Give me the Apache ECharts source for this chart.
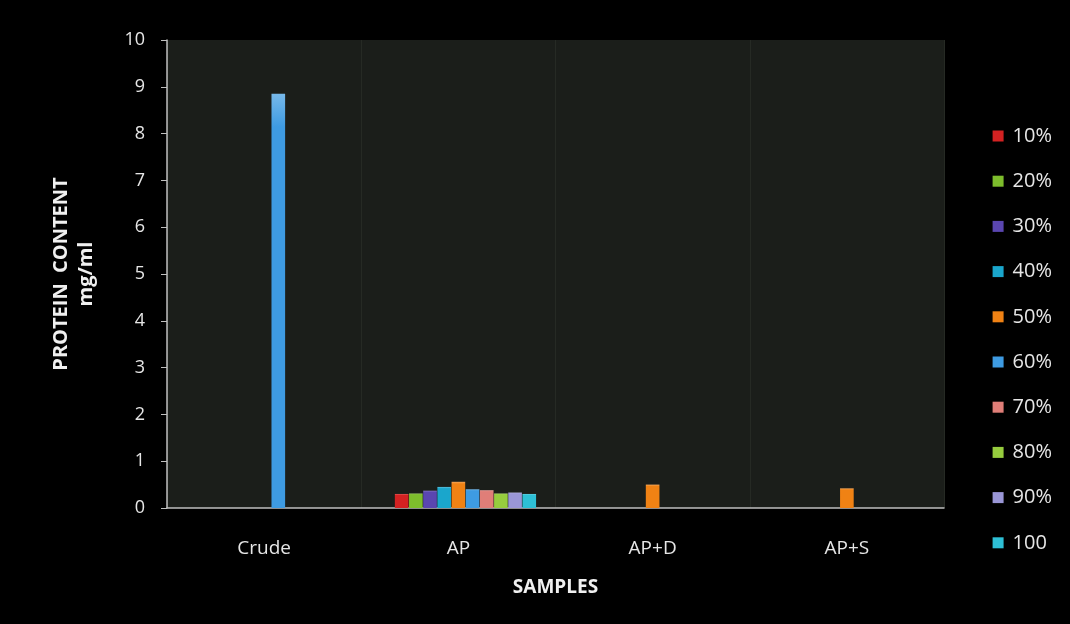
<!DOCTYPE html>
<html>
<head>
<meta charset="utf-8">
<script src="https://cdn.jsdelivr.net/npm/echarts@6/dist/echarts.min.js"></script>
<style>
  html, body { margin: 0; padding: 0; background: #000; }
  #chart { width: 1070px; height: 624px; }
</style>
</head>
<body>
<div id="chart"></div>
<script>
// Samples on the category axis
const categories = ['Crude', 'AP', 'AP+D', 'AP+S'];

// Saturation fractions (legend entries)
const fractions = ['10%', '20%', '30%', '40%', '50%', '60%', '70%', '80%', '90%', '100'];

// Protein content (mg/ml) per fraction, one value per sample ('-' = no bar)
const v10  = ['-', 0.30, '-', '-'];
const v20  = ['-', 0.31, '-', '-'];
const v30  = ['-', 0.37, '-', '-'];
const v40  = ['-', 0.45, '-', '-'];
const v50  = ['-', 0.56, 0.50, 0.42];
const v60  = [8.85, 0.40, '-', '-'];
const v70  = ['-', 0.38, '-', '-'];
const v80  = ['-', 0.31, '-', '-'];
const v90  = ['-', 0.33, '-', '-'];
const v100 = ['-', 0.30, '-', '-'];

const values = [v10, v20, v30, v40, v50, v60, v70, v80, v90, v100];
const colors = ['#d42222', '#7dbd2c', '#5a46b0', '#1aa6cc', '#f08214',
                '#3e9be2', '#e07e78', '#96cc3e', '#9a96d6', '#2ec0d6'];

const yTicks = [0, 10, 1];   // min, max, interval

const chart = echarts.init(document.getElementById('chart'));

function barColor(c) {
  return new echarts.graphic.LinearGradient(0, 0, 0, 1, [
    { offset: 0, color: echarts.color.lift(c, 0.3) },
    { offset: 0.08, color: c },
    { offset: 1, color: c }
  ]);
}

// leading empty slot in each group (kept out of the legend)
const series = [{
  name: '_slot', type: 'bar', data: categories.map(() => '-'),
  silent: true, legendHoverLink: false
}];
fractions.forEach((name, i) => {
  series.push({
    name: name,
    type: 'bar',
    data: values[i],
    itemStyle: { color: barColor(colors[i]) },
    barGap: '4%',
    barCategoryGap: '20%'
  });
});

chart.setOption({
  backgroundColor: '#000000',
  animation: false,
  color: ['#000000'].concat(colors),
  textStyle: { fontFamily: 'Open Sans' },
  legend: {
    data: fractions.map((n, i) => ({ name: n, itemStyle: { color: colors[i] } })),
    orient: 'vertical',
    right: 13,
    top: 121,
    itemWidth: 11,
    itemHeight: 11,
    itemGap: 25.2,
    icon: 'rect',
    textStyle: { color: '#e6e6e6', fontSize: 20, fontFamily: 'Open Sans', padding: [0, 0, 0, 4] }
  },
  grid: {
    left: 167, right: 126, top: 40, bottom: 116,
    show: true,
    backgroundColor: '#1b1e1a',
    borderWidth: 0
  },
  xAxis: {
    type: 'category',
    data: categories,
    name: 'SAMPLES',
    nameLocation: 'middle',
    nameGap: 70,
    nameTextStyle: { color: '#f0f0f0', fontSize: 19, fontWeight: 'bold', fontFamily: 'Open Sans' },
    axisLine: { lineStyle: { color: '#bfbfbf', width: 1.5 } },
    axisTick: { show: false },
    axisLabel: { color: '#e6e6e6', fontSize: 19, margin: 31, fontFamily: 'Open Sans' },
    splitLine: { show: true, lineStyle: { color: '#262a24', width: 1 } }
  },
  yAxis: {
    type: 'value',
    min: yTicks[0], max: yTicks[1], interval: yTicks[2],
    name: 'PROTEIN  CONTENT\nmg/ml',
    nameLocation: 'middle',
    nameGap: 68,
    nameRotate: 90,
    nameTextStyle: { color: '#f0f0f0', fontSize: 20, fontWeight: 'bold', lineHeight: 25, fontFamily: 'Open Sans' },
    axisLine: { show: true, lineStyle: { color: '#bfbfbf', width: 1.5 } },
    axisTick: { show: true, length: 6, lineStyle: { color: '#bfbfbf' } },
    axisLabel: { color: '#e6e6e6', fontSize: 18, margin: 22, fontFamily: 'Open Sans' },
    splitLine: { show: false }
  },
  series: series
});
</script>
</body>
</html>
